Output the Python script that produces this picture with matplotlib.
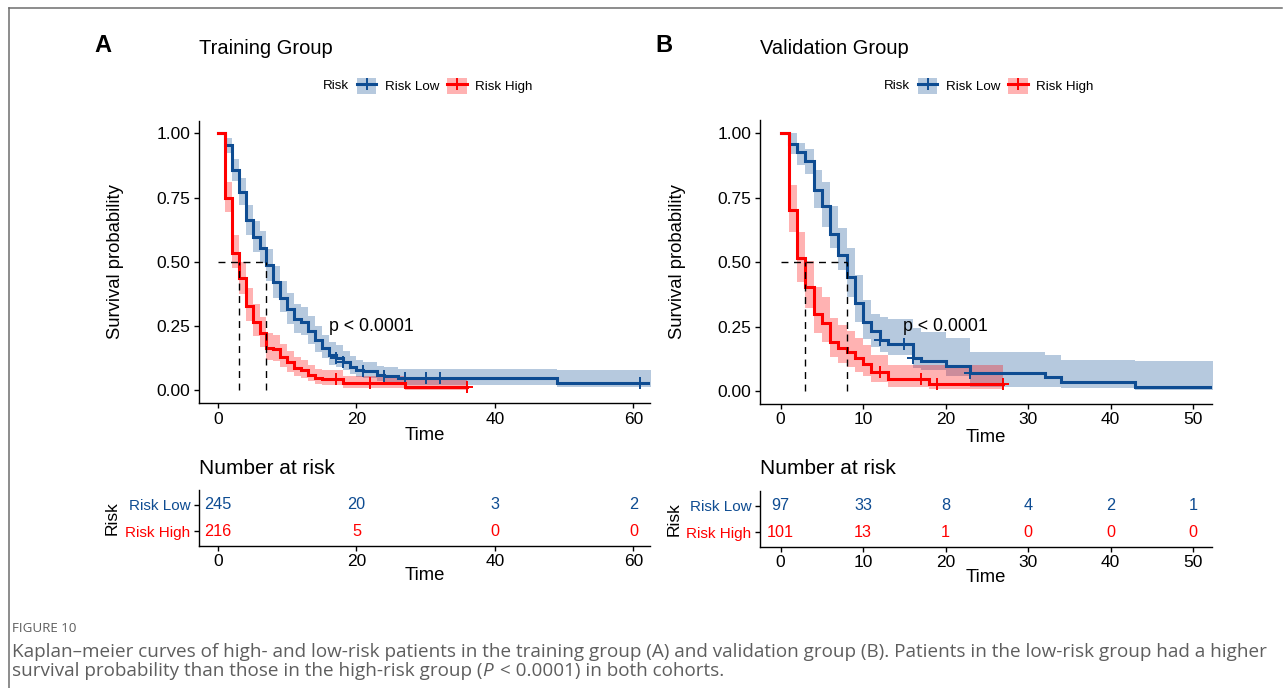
import matplotlib
matplotlib.use("Agg")
import matplotlib.pyplot as plt
from matplotlib.lines import Line2D
from matplotlib.patches import Patch
import numpy as np

plt.rcParams['font.family'] = ['Liberation Sans', 'DejaVu Sans']

BLUE = "#0E4C92"
RED = "#FF0000"

# ---------------- Training group (A) ----------------
a_low_t = [0, 1, 2, 3, 4, 5, 6, 7, 8, 9, 10, 11, 12, 13, 14, 15, 16, 17, 18, 19, 20, 21, 23, 24, 26, 49]
a_low_s = [1.0, 0.955, 0.857, 0.773, 0.663, 0.598, 0.556, 0.486, 0.421, 0.361, 0.317, 0.278, 0.268,
           0.232, 0.197, 0.165, 0.139, 0.128, 0.109, 0.093, 0.080, 0.074, 0.061, 0.057, 0.048, 0.029]
a_low_lo = [1.0, 0.925, 0.815, 0.720, 0.605, 0.540, 0.495, 0.425, 0.360, 0.305, 0.260, 0.225, 0.215,
            0.180, 0.150, 0.125, 0.100, 0.092, 0.078, 0.064, 0.054, 0.048, 0.038, 0.034, 0.022, 0.014]
a_low_hi = [1.0, 0.980, 0.900, 0.825, 0.720, 0.660, 0.620, 0.550, 0.485, 0.425, 0.380, 0.335, 0.325,
            0.290, 0.250, 0.215, 0.190, 0.175, 0.155, 0.135, 0.120, 0.112, 0.097, 0.092, 0.082, 0.078]
a_low_end = 63
a_low_cens = [17, 18, 21, 24, 27, 30, 32, 61]

a_high_t = [0, 1, 2, 3, 4, 5, 6, 7, 8, 9, 10, 11, 12, 13, 14, 15, 18, 27]
a_high_s = [1.0, 0.747, 0.536, 0.437, 0.330, 0.268, 0.223, 0.167, 0.160, 0.130, 0.109, 0.087, 0.080,
            0.061, 0.048, 0.044, 0.029, 0.014]
a_high_lo = [1.0, 0.695, 0.475, 0.375, 0.270, 0.212, 0.170, 0.120, 0.115, 0.090, 0.073, 0.055, 0.050,
             0.035, 0.026, 0.023, 0.010, 0.003]
a_high_hi = [1.0, 0.810, 0.605, 0.500, 0.400, 0.335, 0.285, 0.225, 0.215, 0.180, 0.155, 0.130, 0.120,
             0.100, 0.085, 0.080, 0.055, 0.048]
a_high_end = 36
a_high_cens = [17, 22, 36]

a_table_t = [0, 20, 40, 60]
a_table_low = [245, 20, 3, 2]
a_table_high = [216, 5, 0, 0]

# ---------------- Validation group (B) ----------------
b_low_t = [0, 1, 2, 3, 4, 5, 6, 7, 8, 9, 10, 11, 12, 13, 16, 17, 20, 23, 32, 34, 43]
b_low_s = [1.0, 0.959, 0.925, 0.893, 0.781, 0.718, 0.607, 0.527, 0.442, 0.340, 0.269, 0.233, 0.197,
           0.181, 0.129, 0.116, 0.097, 0.071, 0.054, 0.036, 0.017]
b_low_lo = [1.0, 0.920, 0.877, 0.840, 0.708, 0.637, 0.553, 0.470, 0.365, 0.268, 0.203, 0.170, 0.150,
            0.140, 0.090, 0.080, 0.060, 0.017, 0.017, 0.010, 0.002]
b_low_hi = [1.0, 1.0, 0.960, 0.940, 0.857, 0.810, 0.716, 0.632, 0.554, 0.450, 0.353, 0.300, 0.287,
            0.280, 0.243, 0.230, 0.204, 0.152, 0.140, 0.120, 0.118]
b_low_end = 53
b_low_cens = [12, 15, 16, 23]

b_high_t = [0, 1, 2, 3, 4, 5, 6, 7, 8, 9, 10, 11, 13, 18]
b_high_s = [1.0, 0.701, 0.515, 0.404, 0.297, 0.264, 0.190, 0.167, 0.151, 0.128, 0.106, 0.074, 0.045, 0.028]
b_high_lo = [1.0, 0.617, 0.424, 0.320, 0.225, 0.190, 0.130, 0.110, 0.095, 0.075, 0.060, 0.035, 0.017, 0.007]
b_high_hi = [1.0, 0.800, 0.617, 0.505, 0.405, 0.365, 0.285, 0.255, 0.232, 0.205, 0.180, 0.140, 0.100, 0.100]
b_high_end = 27
b_high_cens = [12, 17, 19, 27]

b_table_t = [0, 10, 20, 30, 40, 50]
b_table_low = [97, 33, 8, 4, 2, 1]
b_table_high = [101, 13, 1, 0, 0, 0]

W, H = 1284, 688
fig = plt.figure(figsize=(W / 100, H / 100), dpi=100)


def px_axes(l, t, r, b):
    return fig.add_axes([l / W, 1 - b / H, (r - l) / W, (b - t) / H])


def km_curve(ax, t, s, lo, hi, end, cens, color):
    tt = np.r_[t, end]
    ss = np.r_[s, s[-1]]
    ax.fill_between(tt, np.r_[lo, lo[-1]], np.r_[hi, hi[-1]], step='post',
                    color=color, alpha=0.3, lw=0)
    ax.step(tt, ss, where='post', color=color, lw=2.2, solid_joinstyle='miter')
    idx = np.searchsorted(t, cens, side='right') - 1
    ax.plot(cens, np.asarray(s)[idx], ls='none', marker='+', ms=9, mew=1.4, color=color)


def median_time(t, s):
    t = np.asarray(t)
    s = np.asarray(s)
    return t[np.argmax(s <= 0.5)]


def style_axes(ax, xlim, xticks):
    ax.set_xlim(*xlim)
    ax.set_xticks(xticks)
    for sp in ("top", "right"):
        ax.spines[sp].set_visible(False)
    for sp in ("left", "bottom"):
        ax.spines[sp].set_linewidth(1.0)
    ax.tick_params(direction='out', length=3.6, width=1.0, labelsize=12.5, pad=2.5, colors='black')


def panel(letter, title, main_box, table_box, xlim, xticks, low, high, table, pxy, text_pos):
    ax = px_axes(*main_box)
    km_curve(ax, *low, BLUE)
    km_curve(ax, *high, RED)
    m_high = median_time(high[0], high[1])
    m_low = median_time(low[0], low[1])
    dash = (0, (5, 4))
    ax.plot([0, max(m_high, m_low)], [0.5, 0.5], ls=dash, color='black', lw=1.0)
    for m in (m_high, m_low):
        ax.plot([m, m], [0, 0.5], ls=dash, color='black', lw=1.0)
    ax.set_ylim(-0.05, 1.05)
    ax.set_yticks([0, 0.25, 0.5, 0.75, 1.0])
    ax.set_yticklabels(["0.00", "0.25", "0.50", "0.75", "1.00"])
    style_axes(ax, xlim, xticks)
    ax.text(pxy[0], pxy[1], "p < 0.0001", fontsize=12.8, va='center', ha='left')

    ylab_x, time_y, risk_x, ttime_y = text_pos
    l, t, r, b = main_box
    fig.text(ylab_x / W, 1 - 262 / H, "Survival probability", rotation=90,
             ha='center', va='center', fontsize=13.3)
    fig.text((l + r) / 2 / W, 1 - time_y / H, "Time", ha='center', va='center', fontsize=13.3)

    # titles and legend
    fig.text((l - 96) / W, 1 - 46 / H, letter, fontsize=17, fontweight='bold', ha='center', va='center')
    fig.text(l / W, 1 - 48 / H, title, fontsize=14.5, ha='left', va='center')
    fig.text((l + 124) / W, 1 - 86 / H, "Risk", fontsize=9.6, ha='left', va='center')
    handles = [
        (Patch(facecolor=BLUE, alpha=0.3, lw=0), Line2D([], [], color=BLUE, lw=2.2, marker='+', ms=8, mew=1.4)),
        (Patch(facecolor=RED, alpha=0.3, lw=0), Line2D([], [], color=RED, lw=2.2, marker='+', ms=8, mew=1.4)),
    ]
    fig.legend(handles, ["Risk Low", "Risk High"], loc='center left',
               bbox_to_anchor=((l + 158) / W, 1 - 86 / H), ncol=2, frameon=False,
               fontsize=9.6, handlelength=1.45, handleheight=1.45, handletextpad=0.65,
               columnspacing=0.6, borderpad=0, borderaxespad=0)

    # number at risk table
    tax = px_axes(*table_box)
    tt, tlow, thigh = table
    for x, v in zip(tt, tlow):
        tax.text(x, 2, str(v), color=BLUE, ha='center', va='center', fontsize=11.7)
    for x, v in zip(tt, thigh):
        tax.text(x, 1, str(v), color=RED, ha='center', va='center', fontsize=11.7)
    tax.set_ylim(0.45, 2.55)
    tax.set_yticks([2, 1])
    tax.set_yticklabels(["Risk Low", "Risk High"])
    style_axes(tax, xlim, tt)
    tax.tick_params(axis='y', labelsize=11)
    for lab, c in zip(tax.get_yticklabels(), (BLUE, RED)):
        lab.set_color(c)
    tl, ttop, tr, tb = table_box
    fig.text(tl / W, 1 - 468 / H, "Number at risk", fontsize=15, ha='left', va='center')
    fig.text(risk_x / W, 1 - (ttop + tb) / 2 / H, "Risk", rotation=90, fontsize=12.6,
             ha='center', va='center')
    fig.text((l + r) / 2 / W, 1 - ttime_y / H, "Time", ha='center', va='center', fontsize=13.3)


panel("A", "Training Group", (199, 120.5, 650, 403.3), (199, 490, 650, 546),
      (-2.75, 62.4), [0, 20, 40, 60],
      (a_low_t, a_low_s, a_low_lo, a_low_hi, a_low_end, a_low_cens),
      (a_high_t, a_high_s, a_high_lo, a_high_hi, a_high_end, a_high_cens),
      (a_table_t, a_table_low, a_table_high), (16.0, 0.25),
      (115, 435, 112, 575))

panel("B", "Validation Group", (760, 120.2, 1212, 403.9), (760, 491, 1212, 547),
      (-2.5, 52.3), [0, 10, 20, 30, 40, 50],
      (b_low_t, b_low_s, b_low_lo, b_low_hi, b_low_end, b_low_cens),
      (b_high_t, b_high_s, b_high_lo, b_high_hi, b_high_end, b_high_cens),
      (b_table_t, b_table_low, b_table_high), (14.8, 0.25),
      (677, 437, 674, 577))

# page frame
frame_c = "#6e6e6e"
fig.add_artist(Line2D([9 / W, 1282 / W], [1 - 8 / H, 1 - 8 / H], color=frame_c, lw=1.1))
fig.add_artist(Line2D([9 / W, 9 / W], [1 - 8 / H, 0], color=frame_c, lw=1.1))

# caption
cap_c = "#5e5e5e"
cap_font = ['Open Sans', 'DejaVu Sans']
fig.text(12 / W, 1 - 628 / H, "FIGURE 10", fontsize=9.6, color=cap_c, family=cap_font,
         ha='left', va='center')
line1 = ("Kaplan\u2013meier curves of high- and low-risk patients in the training group (A) and "
         "validation group (B). Patients in the low-risk group had a higher")
fs = 11.5
t1 = fig.text(12 / W, 1 - 657 / H, line1, fontsize=fs, color=cap_c, family=cap_font,
              ha='left', va='baseline')
fig.canvas.draw()
r = fig.canvas.get_renderer()
w1 = t1.get_window_extent(r).width
fs = fs * (1258 / w1)
t1.set_fontsize(fs)

pieces = [("survival probability than those in the high-risk group (", 'normal'),
          ("P", 'italic'),
          (" < 0.0001) in both cohorts.", 'normal')]
x = 12
for txt, style in pieces:
    tp = fig.text(x / W, 1 - 676 / H, txt, fontsize=fs, color=cap_c, family=cap_font,
                  style=style, ha='left', va='baseline')
    fig.canvas.draw()
    x = tp.get_window_extent(r).x1 + (2 if style == 'italic' else 0)

fig.savefig("out.png", dpi=100)
